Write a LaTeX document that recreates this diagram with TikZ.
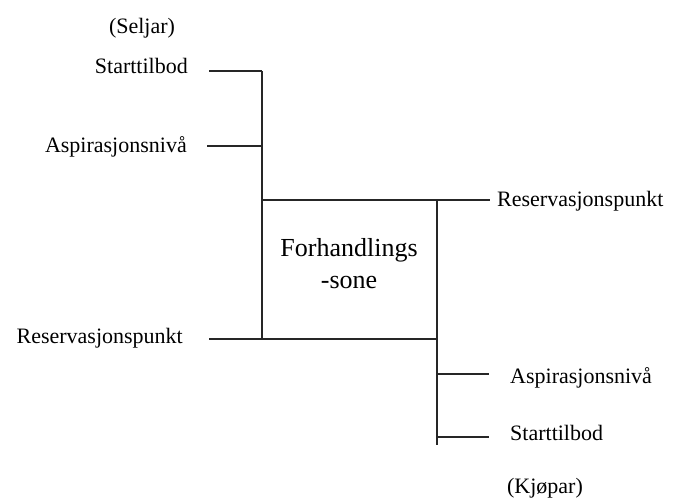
\documentclass[tikz,border=0pt]{standalone}
\usepackage{fontspec}
\setmainfont{Liberation Serif}
\usetikzlibrary{positioning}

\tikzset{
  lbl/.style={inner sep=0pt, font=\fontsize{22}{26}\selectfont},
  zone/.style={inner sep=0pt, align=center, font=\fontsize{26}{32}\selectfont},
  bar/.style={line width=1.6pt, black!85}
}

\begin{document}
\begin{tikzpicture}[x=1pt, y=-1pt]
\useasboundingbox (0,0) rectangle (673,498);

% skeleton of the zone
\coordinate (sTop) at (262,71);
\coordinate (sAsp) at (262,146);
\coordinate (zTL) at (262,200);
\coordinate (zBL) at (262,339);
\coordinate (zTR) at (437,200);
\coordinate (zBR) at (437,339);
\coordinate (bAsp) at (437,374);
\coordinate (bStart) at (437,437);
\coordinate (bBot) at (437,445);

% free ends of the short ticks
\coordinate (sStartEnd) at (209,71);
\coordinate (sAspEnd) at (207,146);
\coordinate (sResEnd) at (209,339);
\coordinate (bResEnd) at (490,200);
\coordinate (bAspEnd) at (489,374);
\coordinate (bStartEnd) at (489,437);

\draw[bar] (sTop) -- (zBL);
\draw[bar] (zTR) -- (bBot);
\draw[bar] (zTL) -- (bResEnd);
\draw[bar] (sResEnd) -- (zBR);
\draw[bar] (sStartEnd) -- (sTop);
\draw[bar] (sAspEnd) -- (sAsp);
\draw[bar] (bAsp) -- (bAspEnd);
\draw[bar] (bStart) -- (bStartEnd);

% seller side
\node[lbl] (seljar) at (142,28) {(Seljar)};
\node[lbl, anchor=east] (sStart) at (188,66) {Starttilbod};
\node[lbl, anchor=east] (sAspLbl) at (187,147) {Aspirasjonsnivå};
\node[lbl, anchor=east] (sRes) at (183,338) {Reservasjonspunkt};

% buyer side
\node[lbl, anchor=west] (bRes) at (497,201) {Reservasjonspunkt};
\node[lbl, anchor=west] (bAspLbl) at (510,378) {Aspirasjonsnivå};
\node[lbl, anchor=west] (bStartLbl) at (510,433) {Starttilbod};
\node[lbl] (kjopar) at (545,488) {(Kjøpar)};

\node[zone] (sone) at (349,264) {Forhandlings\\-sone};
\end{tikzpicture}
\end{document}
